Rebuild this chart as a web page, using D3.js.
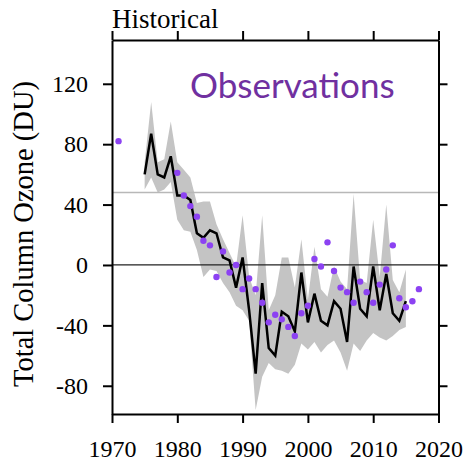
<!DOCTYPE html>
<html>
<head>
<meta charset="utf-8">
<script src="https://cdn.jsdelivr.net/npm/d3@7"></script>
<style>
  body { margin: 0; background: #fff; }
  svg { display: block; }
</style>
</head>
<body>
<svg width="465" height="461"></svg>
<script>
// model mean (black line) and spread (grey band), 1975-2015
var modelYears = d3.range(1975, 2016);
var modelMean = [60, 87, 60, 58, 72, 46, 46, 43, 21, 18,
                 23, 21, 5, 3, -15, 5, -30, -72, -12, -55,
                 -60, -31, -34, -44, -5, -38, -19, -37, -40, -24,
                 -29, -51, -1, -29, -34, -1, -30, -6, -32, -37, -24];
var modelLow = [50, 58, 48, 50, 55, 30, 23, 22, 10, -8,
                -3, -4, -12, -18, -27, -30, -37, -96, -74, -65,
                -69, -70, -72, -66, -52, -56, -51, -58, -53, -50,
                -58, -70, -52, -57, -50, -45, -48, -50, -47, -43, -41];
var modelHigh = [68, 108, 68, 70, 95, 68, 63, 58, 41, 42,
                 42, 27, 17, 8, -1, 33, -8, -20, 33, -30,
                 -20, 5, 5, -15, 17, -23, 12, -16, -21, -1,
                 -11, -16, 47, -10, -12, 30, -8, 40, -10, -18, -3];

// observations (purple dots)
var obsYears = [1971].concat(d3.range(1980, 2018));
var obsValues = [82, 61, 46, 39, 32, 16, 13, -8, 9, -5,
                 0, -16, -9, -16, -25, -38, -33, -36, -41, -47,
                 -32, -27, 4, -1, 15, -4, -15, -18, -25, -11,
                 -18, -25, -13, -3, 13, -22, -28, -24, -16];

var xTicks = [1970, 1980, 1990, 2000, 2010, 2020];
var yTicks = [-80, -40, 0, 40, 80, 120];
var refLevel = 48;

var svg = d3.select("svg"),
    plotLeft = 112, plotRight = 438.5, plotTop = 40, plotBottom = 414,
    serif = "'Liberation Serif', 'Times New Roman', serif";

var x = d3.scaleLinear().domain([1970, 2020]).range([plotLeft, plotRight]);
var y = d3.scaleLinear().domain([-98.7, 149]).range([plotBottom, plotTop]);

var model = modelYears.map(function(yr, i) {
  return {year: yr, mean: modelMean[i], lo: modelLow[i], hi: modelHigh[i]};
});
var obs = obsYears.map(function(yr, i) { return {year: yr, value: obsValues[i]}; });

svg.append("path")
    .datum(model)
    .attr("fill", "#c4c4c4")
    .attr("d", d3.area()
      .x(function(d) { return x(d.year); })
      .y0(function(d) { return y(d.lo); })
      .y1(function(d) { return y(d.hi); }));

svg.append("line")
    .attr("x1", plotLeft).attr("x2", plotRight)
    .attr("y1", y(refLevel)).attr("y2", y(refLevel))
    .attr("stroke", "#b8b8b8")
    .attr("stroke-width", 1.5);

svg.append("line")
    .attr("x1", plotLeft).attr("x2", plotRight)
    .attr("y1", y(0)).attr("y2", y(0))
    .attr("stroke", "#222")
    .attr("stroke-width", 1.2);

svg.append("path")
    .datum(model)
    .attr("fill", "none")
    .attr("stroke", "#000")
    .attr("stroke-width", 2.5)
    .attr("d", d3.line()
      .x(function(d) { return x(d.year); })
      .y(function(d) { return y(d.mean); }));

svg.selectAll(".obs")
    .data(obs)
    .enter().append("circle")
      .attr("class", "obs")
      .attr("cx", function(d) { return x(d.year); })
      .attr("cy", function(d) { return y(d.value); })
      .attr("r", 3.2)
      .attr("fill", "#8c42f2");

// frame and ticks
function styleAxis(g) {
  g.select(".domain").attr("stroke", "#000").attr("stroke-width", 2);
  g.selectAll(".tick line").attr("stroke", "#000").attr("stroke-width", 2);
  g.selectAll("text")
    .attr("font-family", serif)
    .attr("font-size", 24)
    .attr("fill", "#000");
}

// plain hyphen for negatives, like the original
var plainFormat = function(d) { return String(d); };

svg.append("g")
    .attr("transform", "translate(" + plotLeft + ",0)")
    .call(d3.axisLeft(y).tickValues(yTicks).tickSize(9).tickSizeOuter(0).tickPadding(15).tickFormat(plainFormat))
    .call(styleAxis);

svg.append("g")
    .attr("transform", "translate(" + plotRight + ",0)")
    .call(d3.axisRight(y).tickValues(yTicks).tickSize(9).tickSizeOuter(0).tickFormat(""))
    .call(styleAxis);

svg.append("g")
    .attr("transform", "translate(0," + plotBottom + ")")
    .call(d3.axisBottom(x).tickValues(xTicks).tickSize(9).tickSizeOuter(0).tickFormat(plainFormat).tickPadding(17))
    .call(styleAxis);

svg.append("g")
    .attr("transform", "translate(0," + plotTop + ")")
    .call(d3.axisTop(x).tickValues(xTicks).tickSize(9).tickSizeOuter(0).tickFormat(""))
    .call(styleAxis);

svg.append("text")
    .attr("x", plotLeft)
    .attr("y", 28)
    .attr("font-family", serif)
    .attr("font-size", 27)
    .text("Historical");

svg.append("text")
    .attr("transform", "translate(33," + 234 + ") rotate(-90)")
    .attr("text-anchor", "middle")
    .attr("font-family", serif)
    .attr("font-size", 28.5)
    .text("Total Column Ozone (DU)");

svg.append("text")
    .attr("x", 190)
    .attr("y", 98)
    .attr("font-family", "Lato, 'Open Sans', sans-serif")
    .attr("font-size", 35)
    .attr("font-variant-ligatures", "none")
    .attr("fill", "#7030a0")
    .text("Observations");
</script>
</body>
</html>
